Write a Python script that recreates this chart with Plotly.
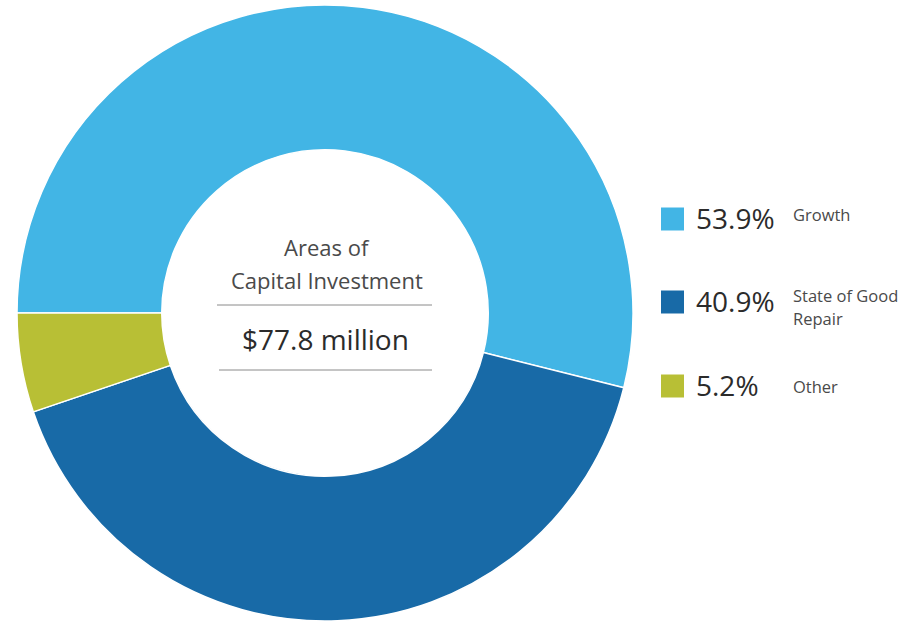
import plotly.graph_objects as go

# Capital investment split
categories = ["Growth", "State of Good Repair", "Other"]
shares = [53.9, 40.9, 5.2]
share_labels = ["53.9%", "40.9%", "5.2%"]
legend_names = [["Growth"], ["State of Good", "Repair"], ["Other"]]
colors = ["#42B5E5", "#186AA7", "#B8BF35"]
center_title = ["Areas of", "Capital Investment"]
center_total = "$77.8 million"

W, H = 918, 622


def px(x):
    return x / W


def py(y):
    return 1 - y / H


FONT = "'Open Sans', Lato, sans-serif"

fig = go.Figure(
    go.Pie(
        labels=categories,
        values=shares,
        hole=0.53,
        sort=False,
        direction="clockwise",
        rotation=270,
        marker=dict(colors=colors, line=dict(color="white", width=1.5)),
        textinfo="none",
        hoverinfo="label+percent",
        domain=dict(x=[px(17), px(633)], y=[py(621), py(5)]),
        showlegend=False,
    )
)

annotations = []

# Centre caption, one annotation per line
for j, line in enumerate(center_title):
    annotations.append(dict(x=px(327), y=py(247 + 33 * j), text=line, showarrow=False,
                            xref="paper", yref="paper", xanchor="center", yanchor="middle",
                            font=dict(family=FONT, size=22, color="#4a4a4a")))
annotations.append(dict(x=px(325), y=py(339), text=center_total, showarrow=False,
                        xref="paper", yref="paper", xanchor="center", yanchor="middle",
                        font=dict(family=FONT, size=28, color="#2b2b2b")))

shapes = [
    dict(type="line", xref="paper", yref="paper", x0=px(217), x1=px(432),
         y0=py(305), y1=py(305), line=dict(color="#8a8a8a", width=1)),
    dict(type="line", xref="paper", yref="paper", x0=px(219), x1=px(432),
         y0=py(370), y1=py(370), line=dict(color="#8a8a8a", width=1)),
]

# Custom legend: swatch, percentage, name
row_y = [218, 301, 385]
name_y = [214, 295, 386]
for i in range(len(categories)):
    yc = row_y[i]
    shapes.append(dict(type="rect", xref="paper", yref="paper",
                       x0=px(661), x1=px(684), y0=py(yc - 11.5 + 1), y1=py(yc + 11.5 + 1),
                       fillcolor=colors[i], line=dict(width=0)))
    annotations.append(dict(x=px(694), y=py(yc), text=share_labels[i], showarrow=False,
                            xref="paper", yref="paper", xanchor="left", yanchor="middle",
                            font=dict(family=FONT, size=28, color="#2b2b2b")))
    for j, line in enumerate(legend_names[i]):
        annotations.append(dict(x=px(791), y=py(name_y[i] + 23 * j), text=line, showarrow=False,
                                xref="paper", yref="paper", xanchor="left", yanchor="middle",
                                font=dict(family=FONT, size=16.5, color="#4a4a4a")))

fig.update_layout(
    width=W, height=H,
    margin=dict(l=0, r=0, t=0, b=0),
    paper_bgcolor="white",
    plot_bgcolor="white",
    annotations=annotations,
    shapes=shapes,
)

fig.write_html("out.html")
